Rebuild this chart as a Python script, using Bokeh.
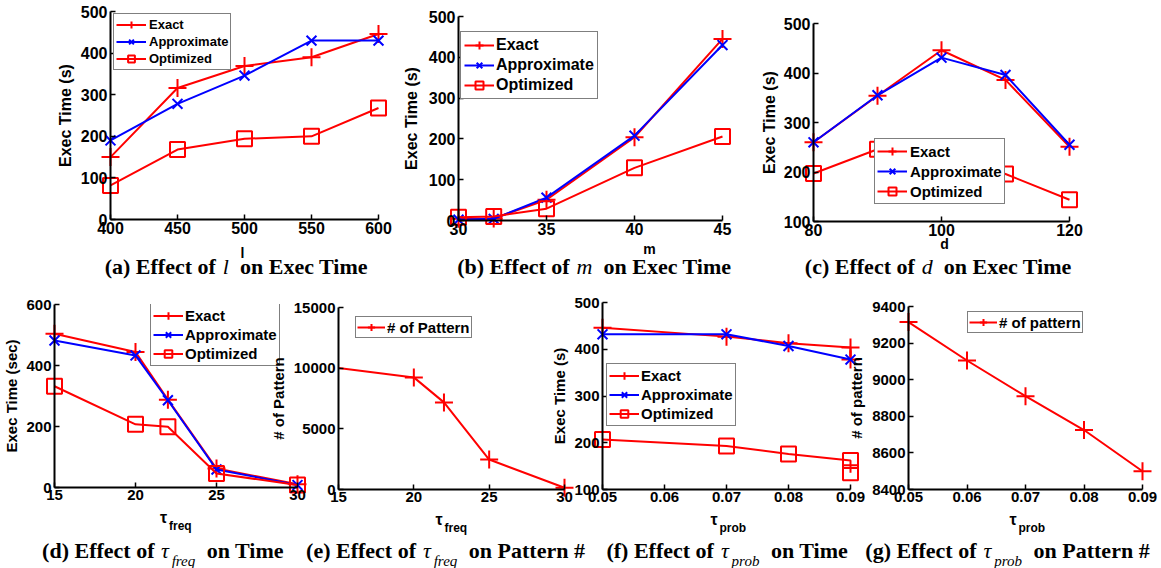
from bokeh.plotting import figure
from bokeh.models import Range1d, FixedTicker, Legend, LegendItem
from bokeh.layouts import row, column
from bokeh.embed import file_html
from bokeh.resources import INLINE
from bokeh.core.properties import value

RED = "#ff0000"
BLUE = "#0000ff"
SANS = "Liberation Sans"
SERIF = "Liberation Serif"

# ---------------- data ----------------
# (a) effect of l
a_x = [400, 450, 500, 550, 600]
a_exact = [150, 316, 369, 390, 446]
a_approx = [190, 278, 346, 430, 430]
a_opt = [82, 168, 194, 200, 268]

# (b) effect of m
b_x = [30, 32, 35, 40, 45]
b_exact = [4, 5, 51, 204, 445]
b_approx = [2, 4, 56, 208, 430]
b_opt = [8, 10, 29, 129, 206]

# (c) effect of d
c_x = [80, 90, 100, 110, 120]
c_exact = [260, 354, 446, 386, 251]
c_approx = [260, 355, 431, 396, 255]
c_opt = [197, 246, 235, 196, 144]

# (d) effect of tau_freq on time
d_x = [15, 20, 22, 25, 30]
d_exact = [504, 444, 288, 62, 11]
d_approx = [482, 433, 286, 59, 8]
d_opt = [332, 207, 199, 46, 8]

# (e) effect of tau_freq on pattern count
e_x = [15, 20, 22, 25, 30]
e_patterns = [10010, 9240, 7180, 2470, 140]

# (f) effect of tau_prob on time
f_x = [0.05, 0.07, 0.08, 0.09, 0.09]
f_exact = [446, 427, 413, 404, 378]
f_approx_x = [0.05, 0.07, 0.08, 0.09]
f_approx = [432, 432, 407, 378]
f_opt = [207, 193, 176, 162, 136]

# (g) effect of tau_prob on pattern count
g_x = [0.05, 0.06, 0.07, 0.08, 0.09]
g_patterns = [9315, 9105, 8910, 8725, 8500]

series_labels = ["Exact", "Approximate", "Optimized"]

a_xticks = [400, 450, 500, 550, 600]
b_xticks = [30, 35, 40, 45]
c_xticks = [80, 100, 120]
d_xticks = [15, 20, 25, 30]
f_xticks = [0.05, 0.06, 0.07, 0.08, 0.09]
time_yticks = [0, 100, 200, 300, 400, 500]
c_yticks = [100, 200, 300, 400, 500]
d_yticks = [0, 200, 400, 600]
e_yticks = [0, 5000, 10000, 15000]
g_yticks = [8400, 8600, 8800, 9000, 9200, 9400]

captions = {
    "a": ("(a) Effect of", "l", "", "on Exec Time"),
    "b": ("(b) Effect of", "m", "", "on Exec Time"),
    "c": ("(c) Effect of", "d", "", "on Exec Time"),
    "d": ("(d) Effect of", "\u03c4", "freq", "on Time"),
    "e": ("(e) Effect of", "\u03c4", "freq", "on Pattern #"),
    "f": ("(f) Effect of", "\u03c4", "prob", "on Time"),
    "g": ("(g) Effect of", "\u03c4", "prob", "on Pattern #"),
}

# approximate Times Bold / Italic advance widths (per 1000 em) for centring
TB = {" ": 250, "#": 500, "(": 333, ")": 333, "E": 667, "P": 611, "T": 667, "a": 500,
      "b": 556, "c": 444, "d": 556, "e": 444, "f": 333, "g": 500, "i": 278, "m": 833,
      "n": 556, "o": 500, "r": 444, "t": 333, "x": 500}
TI = {"l": 278, "m": 722, "d": 500, "f": 278, "r": 389, "e": 444, "q": 500, "p": 500,
      "o": 500, "b": 500, "\u03c4": 440}


def tw(s, size, table):
    return sum(table.get(ch, 500) for ch in s) * size / 1000.0


class Panel:
    def __init__(self, box, frame, xr, yr, xticks, yticks, fs, ylabel, lab_standoff):
        X0, X1, Y0, Y1 = box
        fx0, fx1, fy0, fy1 = frame
        self.frame, self.xr, self.yr = frame, xr, yr
        p = figure(width=X1 - X0, height=Y1 - Y0, x_range=Range1d(*xr), y_range=Range1d(*yr),
                   output_backend="svg", toolbar_location=None, title=None, frame_align=False,
                   min_border_left=fx0 - X0, min_border_right=X1 - fx1,
                   min_border_top=fy0 - Y0, min_border_bottom=Y1 - fy1)
        p.grid.visible = False
        p.outline_line_color = None
        p.background_fill_alpha = 0
        p.border_fill_alpha = 0
        for ax in (p.xaxis[0], p.yaxis[0]):
            ax.axis_line_width = 2
            ax.axis_line_color = "black"
            ax.major_tick_in = 5
            ax.major_tick_out = 0
            ax.major_tick_line_width = 1.5
            ax.major_tick_line_color = "black"
            ax.minor_tick_line_color = None
            ax.major_label_text_font = SANS
            ax.major_label_text_font_style = "bold"
            ax.major_label_text_font_size = f"{fs}px"
            ax.major_label_text_color = "black"
            ax.major_label_standoff = 3
            ax.axis_label_text_font = SANS
            ax.axis_label_text_font_style = "bold"
            ax.axis_label_text_font_size = f"{fs}px"
            ax.axis_label_text_color = "black"
        p.xaxis.ticker = FixedTicker(ticks=xticks)
        p.yaxis.ticker = FixedTicker(ticks=yticks)
        p.yaxis.axis_label = ylabel
        p.yaxis.axis_label_standoff = lab_standoff
        p.xaxis.major_label_standoff = 2
        self.p = p

    def to_data(self, px, py):
        fx0, fx1, fy0, fy1 = self.frame
        dx = self.xr[0] + (px - fx0) * (self.xr[1] - self.xr[0]) / (fx1 - fx0)
        dy = self.yr[0] + (fy1 - py) * (self.yr[1] - self.yr[0]) / (fy1 - fy0)
        return dx, dy

    def put(self, text, px, py, font, size, style, align="left"):
        dx, dy = self.to_data(px, py)
        self.p.text(x=[dx], y=[dy], text=[text], text_font=value(font),
                    text_font_size=value(f"{size}px"), text_font_style=style,
                    text_align=align, text_baseline="alphabetic", text_color="black",
                    level="guide")

    def series(self, x, y, color, marker, size, mx=None, my=None):
        ln = self.p.line(x, y, line_color=color, line_width=2, level="guide")
        sc = self.p.scatter(x if mx is None else mx, y if my is None else my, marker=marker,
                            size=size, line_color=color, fill_color=None, line_width=2,
                            level="guide")
        return [ln, sc]

    def legend(self, items, loc, fs, gw, gh, pad, standoff):
        leg = Legend(items=[LegendItem(label=lab, renderers=r) for lab, r in items],
                     location=loc, label_text_font=SANS, label_text_font_style="bold",
                     label_text_font_size=f"{fs}px", label_text_color="black",
                     glyph_width=gw, glyph_height=gh, label_height=gh, label_standoff=standoff,
                     padding=pad, spacing=0, margin=0, border_line_color="black",
                     border_line_width=1, background_fill_color="white",
                     background_fill_alpha=1)
        self.p.add_layout(leg, "center")

    def caption(self, key, cx, base, size, subsize):
        prefix, var, sub, suffix = captions[key]
        g1, g2 = 7, 11
        w1 = tw(prefix, size, TB)
        wv = tw(var, size, TI)
        ws = tw(sub, subsize, TI) if sub else 0
        total = w1 + g1 + wv + ((1 + ws) if sub else 0) + g2 + tw(suffix, size, TB)
        x = cx - total / 2.0
        self.put(prefix, x, base, SERIF, size, "bold")
        x += w1 + g1
        self.put(var, x, base, SERIF, size, "italic")
        x += wv
        if sub:
            x += 1
            self.put(sub, x, base + 10, SERIF, subsize, "italic")
            x += ws
        x += g2
        self.put(suffix, x, base, SERIF, size, "bold")

    def xlabel_tau(self, sub):
        fx0, fx1, fy0, fy1 = self.frame
        c = (fx0 + fx1) / 2.0
        self.put("\u03c4", c - 16, fy1 + 30, SANS, 16, "bold")
        self.put(sub, c - 7, fy1 + 38, SANS, 12, "bold")


# ---------------- row 1 ----------------
A = Panel((0, 400, 0, 280), (110, 378, 11, 219), (400, 600), (0, 500), a_xticks, time_yticks,
          16, "Exec Time (s)", 4)
ra = [A.series(a_x, a_exact, RED, "cross", 18), A.series(a_x, a_approx, BLUE, "x", 14),
      A.series(a_x, a_opt, RED, "square", 15)]
A.legend(list(zip(series_labels, ra)), (3, 149), 13, 30, 17, 2, 3)
A.put("l", 242, 252, SANS, 14, "bold", "center")
A.caption("a", 236, 266, 22, 15)

B = Panel((370, 745, 0, 280), (458, 722, 16, 220), (30, 45), (0, 500), b_xticks, time_yticks,
          16, "Exec Time (s)", 6)
rb = [B.series(b_x, b_exact, RED, "cross", 18), B.series(b_x, b_approx, BLUE, "x", 14),
      B.series(b_x, b_opt, RED, "square", 15)]
B.legend(list(zip(series_labels, rb)), (2, 121), 16, 30, 20, 3, 2)
B.put("m", 649, 248, SANS, 14, "bold", "center")
B.caption("b", 594, 266, 22, 15)

C = Panel((725, 1161, 0, 280), (813, 1069, 23, 221), (80, 120), (100, 500), c_xticks, c_yticks,
          16, "Exec Time (s)", 3)
rc = [C.series(c_x, c_exact, RED, "cross", 18), C.series(c_x, c_approx, BLUE, "x", 14),
      C.series(c_x, c_opt, RED, "square", 15)]
C.legend(list(zip(series_labels, rc)), (61, 17), 15, 30, 20, 2, 3)
C.put("d", 944, 243, SANS, 14, "bold", "center")
C.caption("c", 938, 266, 22, 15)

B.p.margin = (0, 0, 0, -30)
C.p.margin = (0, 0, 0, -20)

# ---------------- row 2 ----------------
D = Panel((0, 310, 280, 568), (53, 297, 304, 487), (15, 30), (0, 600), d_xticks, d_yticks,
          15, "Exec Time (sec)", 3)
rd = [D.series(d_x, d_exact, RED, "cross", 18), D.series(d_x, d_approx, BLUE, "x", 14),
      D.series(d_x, d_opt, RED, "square", 15)]
D.legend(list(zip(series_labels, rd)), (96, 121), 15, 30, 19, 2, 2)
D.xlabel_tau("freq")
D.caption("d", 162, 550, 22, 15)

E = Panel((265, 600, 280, 568), (338, 564, 307, 489), (15, 30), (0, 15000), d_xticks, e_yticks,
          15, "# of Pattern", 4)
re_ = E.series(e_x, e_patterns, RED, "cross", 18, mx=e_x[1:], my=e_patterns[1:])
E.legend([("# of Pattern", re_)], (17, 151), 15, 28, 18, 1, 2)
E.xlabel_tau("freq")
E.caption("e", 445, 550, 22, 15)

F = Panel((545, 870, 280, 568), (602, 850, 302, 489), (0.05, 0.09), (100, 500), f_xticks,
          c_yticks, 15, "Exec Time (s)", 3)
rf = [F.series(f_x, f_exact, RED, "cross", 18), F.series(f_approx_x, f_approx, BLUE, "x", 14),
      F.series(f_x, f_opt, RED, "square", 15)]
F.legend(list(zip(series_labels, rf)), (4, 63), 15, 30, 19, 2, 2)
F.xlabel_tau("prob")
F.caption("f", 727, 550, 22, 15)

G = Panel((840, 1161, 280, 568), (908, 1142, 306, 489), (0.05, 0.09), (8400, 9400), f_xticks,
          g_yticks, 15, "# of pattern", 4)
rg = G.series(g_x, g_patterns, RED, "cross", 18)
G.legend([("# of pattern", rg)], (59, 156), 15, 28, 18, 1, 2)
G.xlabel_tau("prob")
G.caption("g", 1007, 550, 22, 15)

E.p.margin = (0, 0, 0, -45)
F.p.margin = (0, 0, 0, -55)
G.p.margin = (0, 0, 0, -30)

layout = column(row(A.p, B.p, C.p), row(D.p, E.p, F.p, G.p))

open("out.html", "w").write(file_html(layout, INLINE))
